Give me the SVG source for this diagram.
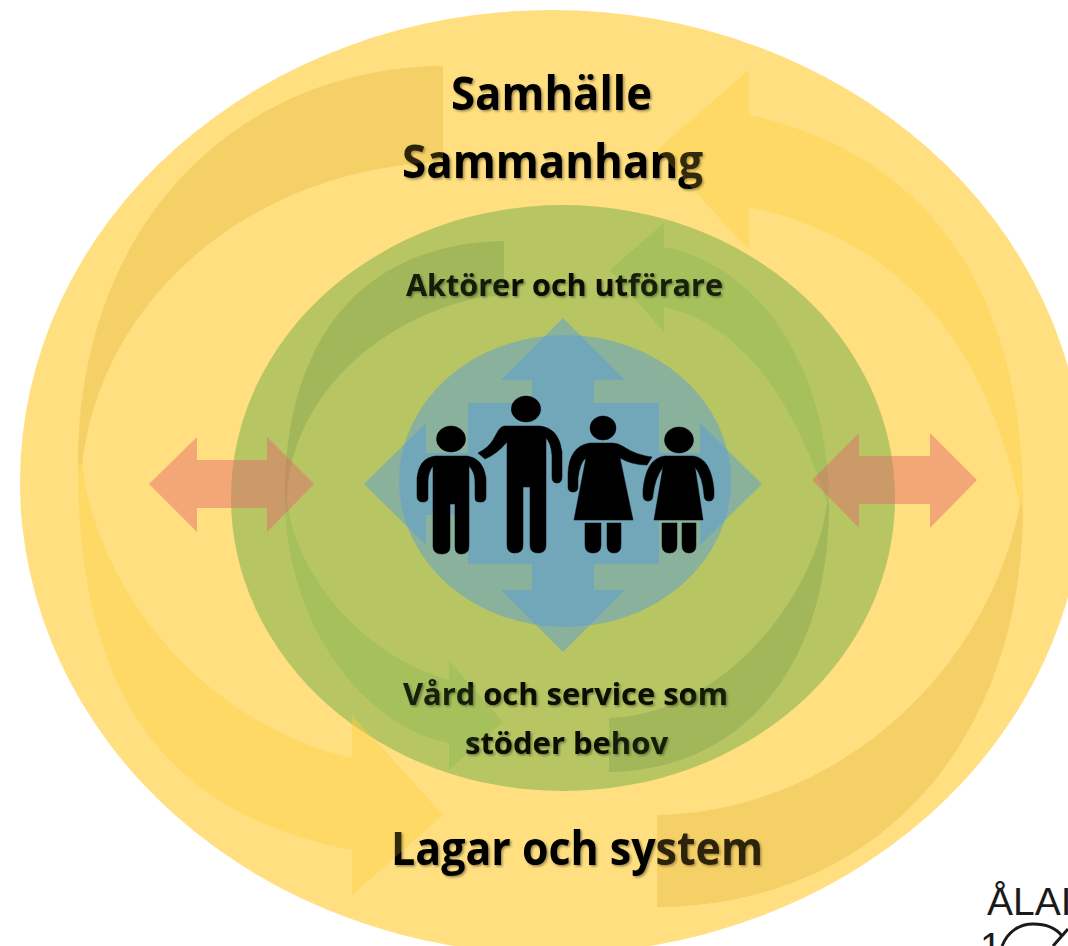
<svg xmlns="http://www.w3.org/2000/svg" width="1068" height="946" viewBox="0 0 1068 946">
<style>
.lbl{font-family:"Open Sans","Noto Sans","Liberation Sans",sans-serif;font-weight:700;filter:url(#sh)}
.big{font-size:46px;fill:#000}
.mid{font-size:31px;fill:#070b04}
.yb{fill:#ffd040}
.yd{fill:#e0b030}
.gb{fill:#70ad47}
.gd{fill:#5e8a3c}
.u1{fill-opacity:.25}
.u2{fill-opacity:.125}
.o1{fill-opacity:.2}
.o2{fill-opacity:.12}
.bl{fill:#5b9bd5;fill-opacity:.5}
.or{fill:#e4636f;fill-opacity:.45}
.pp{fill:#000;stroke:#000;stroke-width:.5}
.lg{font-family:"Liberation Sans",sans-serif;font-size:39px;fill:#1a1a1a}
</style>
<defs>
<filter id="sh" x="-5%" y="-20%" width="110%" height="140%"><feDropShadow dx="1.5" dy="1.5" stdDeviation="1.2" flood-color="#000" flood-opacity=".4"/></filter>
<path id="a1" d="M443,66 C235,68 78,225 78,465 L82,465 C100,300 250,168 443,162 Z"/>
<path id="a2" d="M78,465 C78,700 170,815 352,850 V895 L443,815 L352,715 V758 C210,725 100,600 82,465 Z"/>
<path id="a3" d="M1023,505 C1023,270 910,150 749,115 V70 L657,150 L749,250 V207 C900,240 985,340 1020,505 Z"/>
<path id="a4" d="M1023,505 C1023,740 880,905 657,907 V815 C830,812 985,680 1020,505 Z"/>
<path id="b1" d="M504,241 C370,243 285,330 285,497 L287,497 C292,380 410,300 504,295 Z"/>
<path id="b2" d="M285,497 C285,620 360,725 449,743 V770 L503,722 L449,661 V680 C360,655 292,570 287,497 Z"/>
<path id="b3" d="M829,503 C829,370 760,265 664,247 V223 L610,270 L664,332 V307 C730,320 790,385 827,503 Z"/>
<path id="b4" d="M829,503 C829,670 740,770 609,772 V718 C720,715 815,600 827,503 Z"/>
</defs>
<rect width="1068" height="946" fill="#fff"/>
<g id="ring-samhalle"><ellipse cx="552" cy="482" rx="532" ry="472" fill="#ffc000" fill-opacity=".5"/></g>
<g id="ring-aktorer"><ellipse cx="563" cy="498" rx="332" ry="293" fill="#70ad47" fill-opacity=".5"/></g>
<g id="connectors-under">
<use href="#a1" class="yd u2"/><use href="#a2" class="yb u1"/><use href="#a3" class="yb u1"/><use href="#a4" class="yd u2"/>
<use href="#b1" class="gd u2"/><use href="#b2" class="gb u2"/><use href="#b3" class="gb u2"/><use href="#b4" class="gd u2"/>
</g>
<g id="labels">
<text class="lbl big" x="451" y="110" textLength="201" lengthAdjust="spacingAndGlyphs">Samhälle</text>
<text class="lbl big" x="402" y="178" textLength="301" lengthAdjust="spacingAndGlyphs">Sammanhang</text>
<text class="lbl mid" x="406" y="296" textLength="317" lengthAdjust="spacingAndGlyphs">Aktörer och utförare</text>
<text class="lbl mid" x="403" y="705" textLength="325" lengthAdjust="spacingAndGlyphs">Vård och service som</text>
<text class="lbl mid" x="465" y="754" textLength="203" lengthAdjust="spacingAndGlyphs">stöder behov</text>
<text class="lbl big" x="391" y="865" textLength="372" lengthAdjust="spacingAndGlyphs">Lagar och system</text>
</g>
<g id="connectors-over">
<use href="#a1" class="yd o1"/><use href="#a2" class="yb o1"/><use href="#a3" class="yb o1"/><use href="#a4" class="yd o1"/>
<use href="#b1" class="gd o2"/><use href="#b2" class="gb o2"/><use href="#b3" class="gb o2"/><use href="#b4" class="gd o2"/>
</g>
<g id="core"><ellipse cx="565" cy="481" rx="166" ry="146" class="bl"/></g>
<g id="quad-arrow"><path class="bl" d="M563,318 L625,380 H594 V403 H659 V453 H700 V423 L762,484 L700,545 V515 H659 V564 H594 V590 H625 L563,652 L501,590 H532 V564 H468 V515 H426 V545 L364,484 L426,423 V453 H468 V403 H532 V380 H501 Z"/></g>
<g id="arrow-left"><path class="or" d="M149,484 L197,437 V460 H267 V437 L314,484 L267,532 V508 H197 V532 Z"/></g>
<g id="arrow-right"><path class="or" d="M812,480 L859,433 V456 H930 V433 L977,480 L930,528 V504 H859 V528 Z"/></g>
<g id="boy" class="pp"><ellipse cx="451" cy="439" rx="14.500" ry="13"/><path d="M435 456 H467 Q483 458 486 478 L486 497 Q486 502 481 502 H479 Q475 502 475 498 L475 482 Q475 472 469 466 V546 Q469 554 461 554 Q455 554 455 547 V504 H450 V547 Q450 554 442 554 Q433 554 433 546 V466 Q428 472 428 482 V498 Q428 502 423 502 Q417 502 417 496 V478 Q419 458 435 456 Z"/></g>
<g id="man" class="pp"><ellipse cx="526" cy="409" rx="14.700" ry="13"/><path d="M505 426 H540 Q559 428 562 452 V477 Q562 483 557 483 Q552 483 552 477 L552 455 Q551 443 546 438 V545 Q546 553 538 553 Q530 553 530 545 V487 H523 V545 Q523 553 515 553 Q507 553 507 545 V442 Q497 454 485 459 L478 453 Q488 448 493 440 L498 431 Q501 426 505 426 Z"/></g>
<g id="woman" class="pp"><ellipse cx="603" cy="428" rx="13" ry="12"/><path d="M590 443 H612 Q618 443 624 447 Q636 455 652 457 L647 465 Q632 465 620 458 L633 520 H574 L586 458 Q580 462 578 478 V487 Q578 492 573 492 Q568 492 568 487 V474 Q569 446 590 443 Z"/><path d="M585 523 H601 V545 Q601 553 593 553 Q585 553 585 545 Z"/><path d="M607 523 H621 V545 Q621 553 614 553 Q607 553 607 545 Z"/></g>
<g id="girl" class="pp"><ellipse cx="679" cy="440" rx="14.500" ry="13"/><path d="M665 456 H693 Q711 458 714 490 V495 Q714 501 709 501 Q704 501 704 495 Q703 478 695 467 L703 520 H654 L663 467 Q655 478 653 495 Q653 501 648 501 Q643 501 643 495 V490 Q646 458 665 456 Z"/><path d="M662 523 H677 V545 Q677 553 669.500 553 Q662 553 662 545 Z"/><path d="M682 523 H696 V545 Q696 553 689 553 Q682 553 682 545 Z"/></g>
<g id="logo">
<text class="lg" x="987" y="915">ÅLAI</text>
<text class="lg" x="980" y="960">1</text>
<path d="M1002,946 C1008,931 1020,924 1033,924 C1046,924 1056,928 1062,936 M1053,946 L1068,929" fill="none" stroke="#1a1a1a" stroke-width="3"/>
</g>
</svg>
